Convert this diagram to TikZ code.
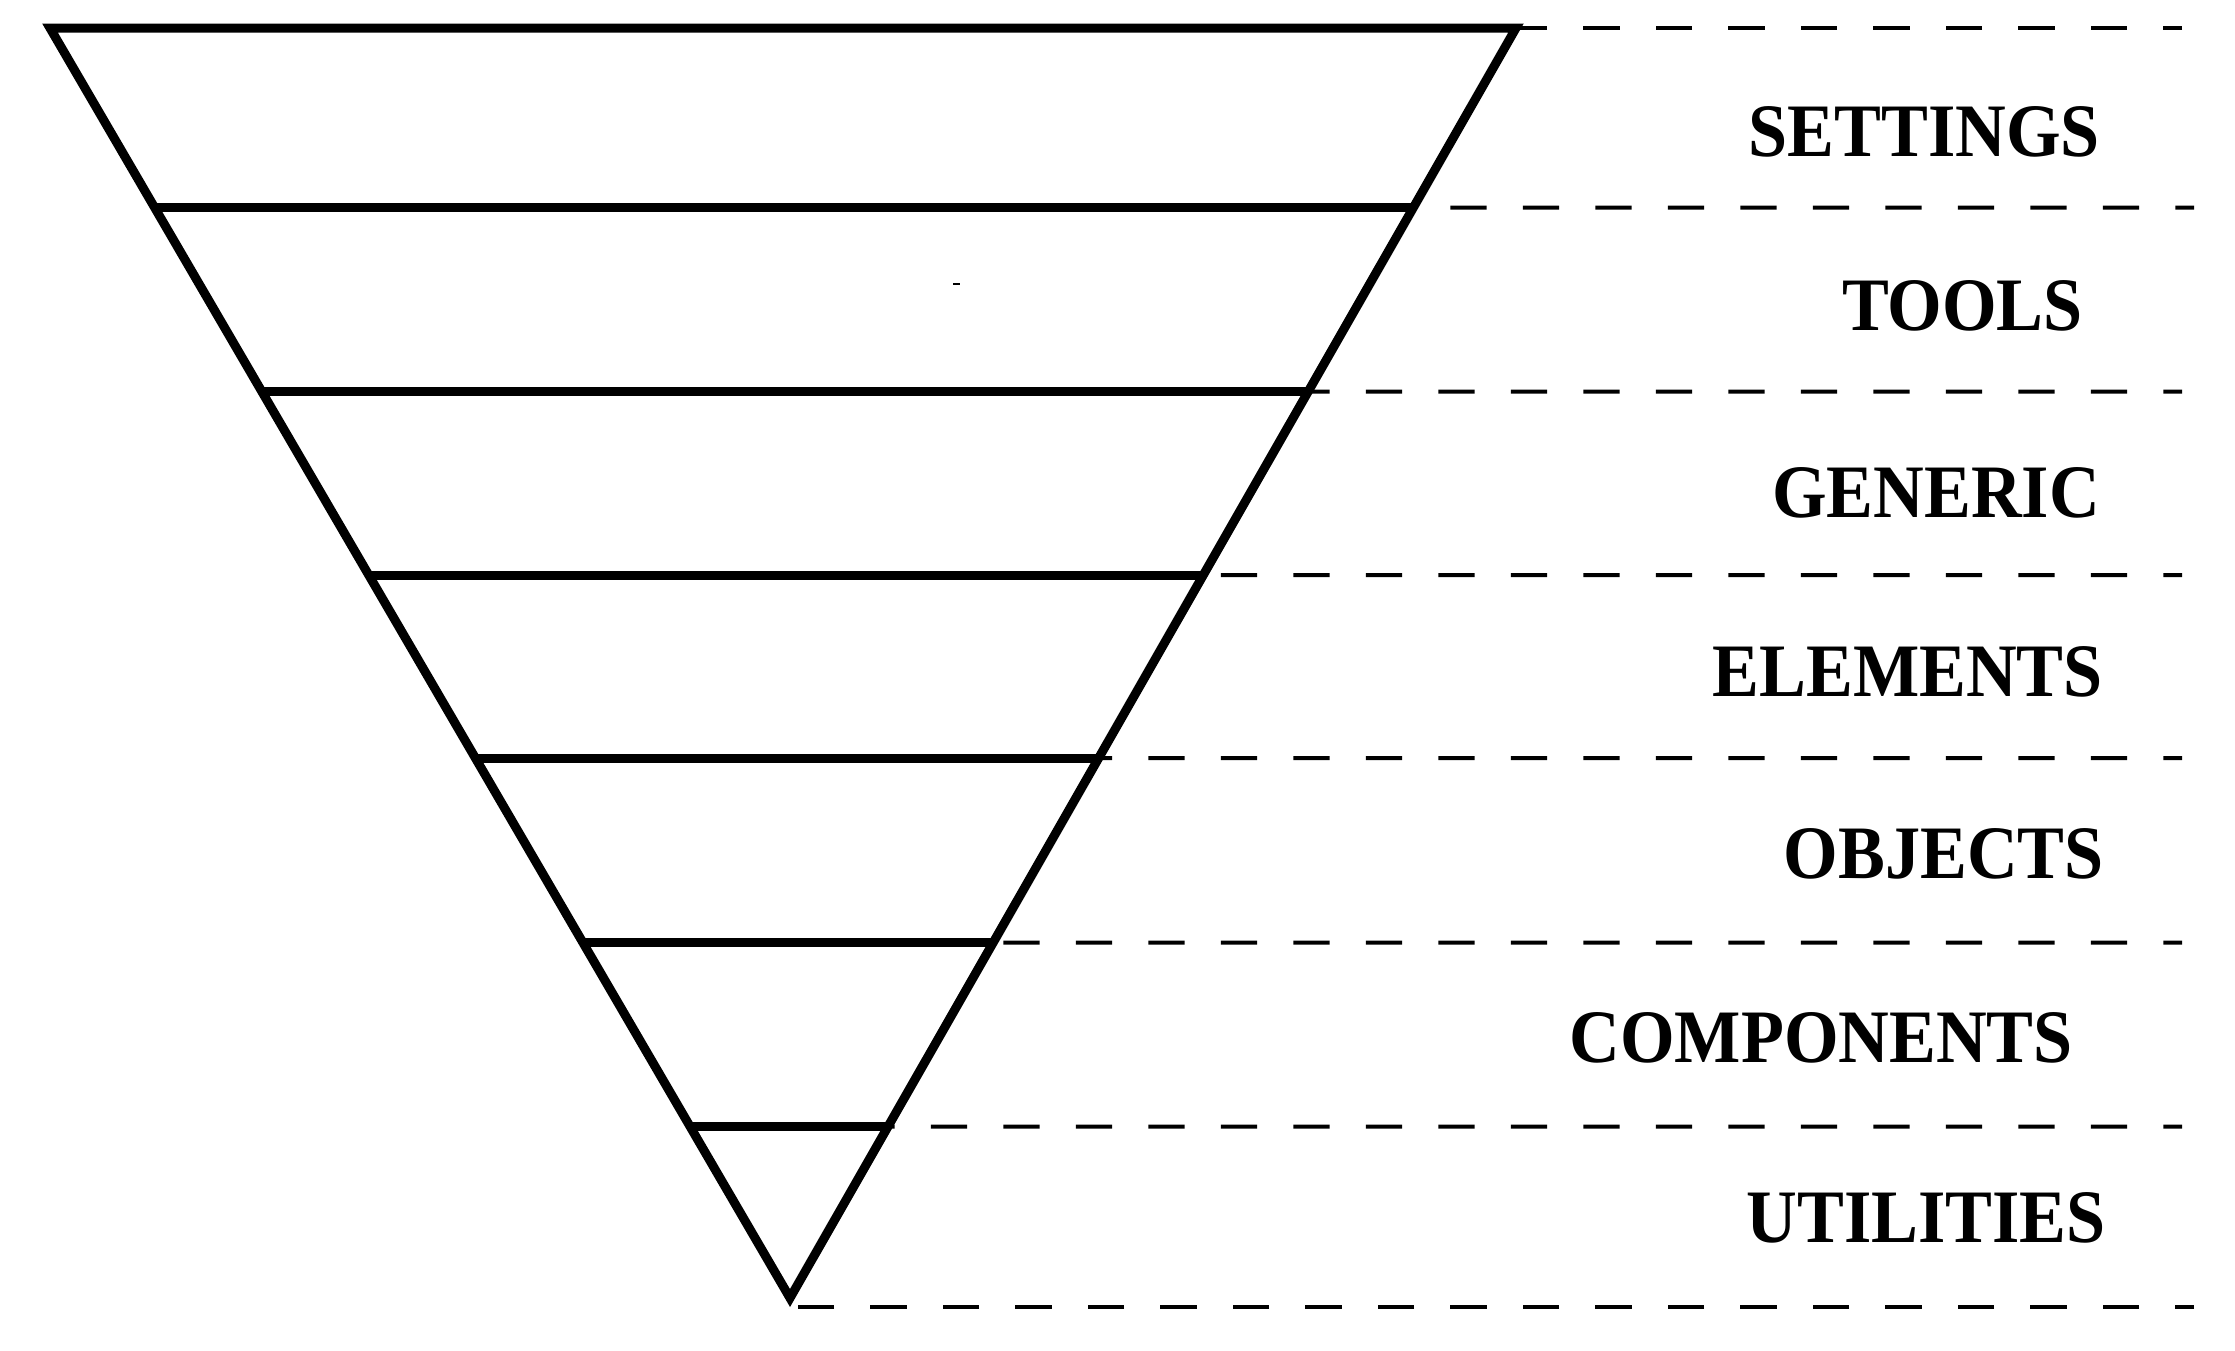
\documentclass[tikz,border=0pt]{standalone}
\usepackage{fontspec}
\newfontfamily\labfont[FakeStretch=0.93]{Liberation Serif}
\usetikzlibrary{calc}
\begin{document}
\begin{tikzpicture}[x=1pt,y=-1pt,
  solidline/.style={line width=9pt, line join=miter},
  dashline/.style={line width=4pt, dash pattern=on 36.25pt off 36.25pt, dash phase=17.5pt},
  lab/.style={anchor=base east, inner sep=0pt, font=\labfont\bfseries\fontsize{75.5}{80}\selectfont}]
\useasboundingbox (0,0) rectangle (2235,1350);
% triangle corners
\coordinate (L0) at (50,28);
\coordinate (R0) at (1516,28);
\coordinate (A) at (790,1298);
\coordinate (B) at (788,1307);
% layer boundaries
\coordinate (L1) at ($(L0)!0.14134!(A)$); \coordinate (R1) at ($(R0)!0.14134!(A)$);
\coordinate (L2) at ($(L0)!0.28638!(A)$); \coordinate (R2) at ($(R0)!0.28638!(A)$);
\coordinate (L3) at ($(L0)!0.43071!(A)$); \coordinate (R3) at ($(R0)!0.43071!(A)$);
\coordinate (L4) at ($(L0)!0.57480!(A)$); \coordinate (R4) at ($(R0)!0.57480!(A)$);
\coordinate (L5) at ($(L0)!0.72024!(A)$); \coordinate (R5) at ($(R0)!0.72024!(A)$);
\coordinate (L6) at ($(L0)!0.86512!(A)$); \coordinate (R6) at ($(R0)!0.86512!(A)$);
% dashed line ends
\coordinate (E0) at (2182,28);
\coordinate (E1) at (2194,207.5);
\coordinate (E2) at (2182,391.7);
\coordinate (E3) at (2182,575);
\coordinate (E4) at (2182,758);
\coordinate (E5) at (2182,942.7);
\coordinate (E6) at (2182,1126.7);
\coordinate (E7) at (2194,1307);
% dashed guides (drawn from the right end so all end on a dash)
\draw[dashline] (E0) -- ($(R0)+(-10,0)$);
\draw[dashline] (E1) -- ($(R1)+(-10,0)$);
\draw[dashline] (E2) -- ($(R2)+(-10,0)$);
\draw[dashline] (E3) -- ($(R3)+(-10,0)$);
\draw[dashline] (E4) -- ($(R4)+(-10,0)$);
\draw[dashline] (E5) -- ($(R5)+(-10,0)$);
\draw[dashline] (E6) -- ($(R6)+(-10,0)$);
\draw[dashline] (E7) -- (B);
% funnel
\draw[solidline] (L0) -- (R0) -- (A) -- cycle;
\draw[solidline] (L1) -- (R1);
\draw[solidline] (L2) -- (R2);
\draw[solidline] (L3) -- (R3);
\draw[solidline] (L4) -- (R4);
\draw[solidline] (L5) -- (R5);
\draw[solidline] (L6) -- (R6);
% tiny mark
\coordinate (m1) at (953,284); \coordinate (m2) at (960,284);
\draw[line width=2pt] (m1) -- (m2);
% labels
\node[lab] (settings) at (2100,156) {SETTINGS};
\node[lab] (tools) at (2083,330) {TOOLS};
\node[lab] (generic) at (2100,517) {GENERIC};
\node[lab] (elements) at (2103,696) {ELEMENTS};
\node[lab] (objects) at (2104,878) {OBJECTS};
\node[lab] (components) at (2073,1062) {COMPONENTS};
\node[lab] (utilities) at (2106,1242) {UTILITIES};
\end{tikzpicture}
\end{document}
